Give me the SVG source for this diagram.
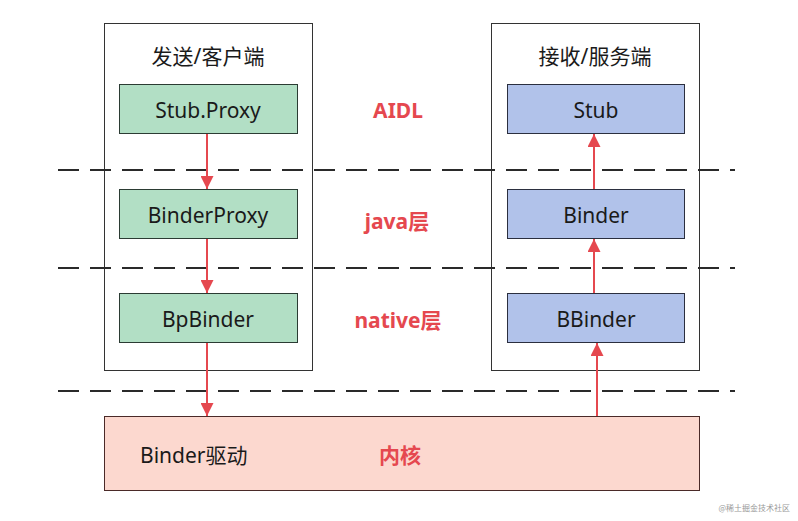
<svg xmlns="http://www.w3.org/2000/svg" width="798" height="521" viewBox="0 0 798 521">
<defs>
<style>
.cont{fill:#fff;stroke:#333;stroke-width:1}
.green{fill:#b2dfc5;stroke:#2b3b33;stroke-width:1}
.blue{fill:#b1c2ea;stroke:#2b2f3f;stroke-width:1}
.kern{fill:#fcd8cf;stroke:#4a2a28;stroke-width:1}
.t{font-family:"Noto Sans","Noto Sans CJK SC",sans-serif;font-size:21px;fill:#1a1a1a;text-anchor:middle}
.r{font-family:"Noto Sans","Noto Sans CJK SC",sans-serif;font-size:21px;font-weight:bold;fill:#e5484f;text-anchor:middle}
.dash{stroke:#2a2a2a;stroke-width:2;stroke-dasharray:21 11;fill:none}
.arr{stroke:#e5484f;stroke-width:2;fill:none}
</style>
<marker id="ah" viewBox="0 0 10 10" refX="10" refY="5" markerWidth="6.5" markerHeight="6.5" markerUnits="strokeWidth" orient="auto">
<path d="M0,0 L10,5 L0,10 Z" fill="#e5484f"/>
</marker>
</defs>
<rect width="798" height="521" fill="#fff"/>
<g id="client">
<rect class="cont" x="104.5" y="23.5" width="208" height="347"/>
<text class="t" x="208" y="64">发送/客户端</text>
</g>
<g id="server">
<rect class="cont" x="491.5" y="23.5" width="208" height="347"/>
<text class="t" x="595" y="64">接收/服务端</text>
</g>
<g id="layers">
<line class="dash" x1="58" y1="170" x2="735" y2="170"/>
<line class="dash" x1="58" y1="268" x2="735" y2="268"/>
<line class="dash" x1="58" y1="391" x2="735" y2="391"/>
</g>
<g id="kernel">
<rect class="kern" x="104.5" y="416.5" width="595" height="74"/>
<text class="t" x="140" y="463" style="text-anchor:start">Binder驱动</text>
</g>
<g id="stubproxy">
<rect class="green" x="119.5" y="84.5" width="178" height="49"/>
<text class="t" x="208" y="118">Stub.Proxy</text>
</g>
<g id="binderproxy">
<rect class="green" x="119.5" y="189.5" width="178" height="49"/>
<text class="t" x="208" y="223">BinderProxy</text>
</g>
<g id="bpbinder">
<rect class="green" x="119.5" y="293.5" width="178" height="49"/>
<text class="t" x="208" y="327">BpBinder</text>
</g>
<g id="stub">
<rect class="blue" x="507.5" y="84.5" width="177" height="49"/>
<text class="t" x="596" y="118">Stub</text>
</g>
<g id="binder">
<rect class="blue" x="507.5" y="189.5" width="177" height="49"/>
<text class="t" x="596" y="223">Binder</text>
</g>
<g id="bbinder">
<rect class="blue" x="507.5" y="293.5" width="177" height="49"/>
<text class="t" x="596" y="327">BBinder</text>
</g>
<g id="labels">
<text class="r" x="398" y="118">AIDL</text>
<text class="r" x="397" y="229">java层</text>
<text class="r" x="398" y="328">native层</text>
<text class="r" x="400" y="463">内核</text>
</g>
<g id="connectors">
<line class="arr" x1="207" y1="134" x2="207" y2="189" marker-end="url(#ah)"/>
<line class="arr" x1="207" y1="239" x2="207" y2="293" marker-end="url(#ah)"/>
<line class="arr" x1="207" y1="343" x2="207" y2="416" marker-end="url(#ah)"/>
<line class="arr" x1="594" y1="189" x2="594" y2="134" marker-end="url(#ah)"/>
<line class="arr" x1="594" y1="293" x2="594" y2="239" marker-end="url(#ah)"/>
<line class="arr" x1="597" y1="416" x2="597" y2="343" marker-end="url(#ah)"/>
</g>
<text x="790" y="511" font-family="Noto Sans CJK SC,sans-serif" font-size="8" fill="#999" text-anchor="end">@稀土掘金技术社区</text>
</svg>
